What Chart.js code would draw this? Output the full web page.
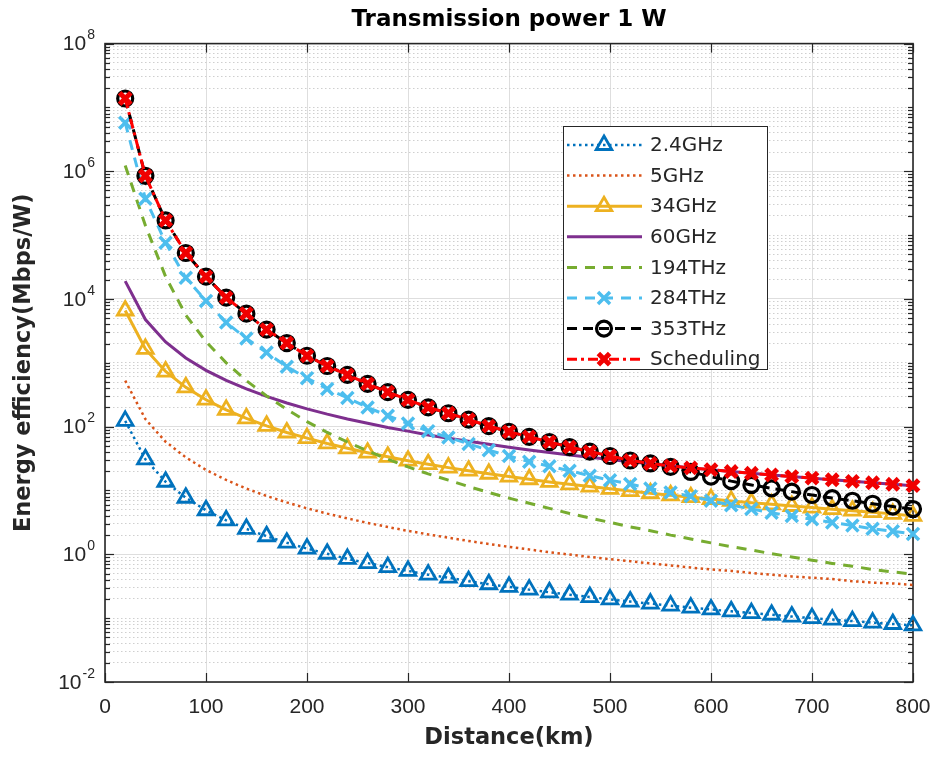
<!DOCTYPE html>
<html>
<head>
<meta charset="utf-8">
<script src="https://cdn.jsdelivr.net/npm/chart.js@4.4.1/dist/chart.umd.min.js"></script>
<style>
html,body{margin:0;padding:0;background:#ffffff;}
#wrap{width:939px;height:762px;}
</style>
</head>
<body>
<div id="wrap"><canvas id="c" width="939" height="762"></canvas></div>
<script>
// ---------- data ----------
const distances = [20,40,60,80,100,120,140,160,180,200,220,240,260,280,300,320,340,360,380,400,
                   420,440,460,480,500,520,540,560,580,600,620,640,660,680,700,720,740,760,780,800];

const ghz2_4 = [123,30.8,13.7,7.7,4.9,3.4,2.5,1.92,1.52,1.23,1.02,0.85,0.73,0.63,0.55,0.48,0.43,0.38,0.34,0.31,
                0.28,0.254,0.233,0.214,0.197,0.182,0.169,0.157,0.146,0.137,0.128,0.120,0.113,0.106,0.100,0.095,0.090,0.085,0.081,0.077];

const ghz5 = [525,131,58,33,21,14.6,10.7,8.2,6.5,5.25,4.34,3.65,3.11,2.68,2.33,2.05,1.82,1.62,1.45,1.31,
              1.19,1.08,0.99,0.91,0.84,0.78,0.72,0.67,0.62,0.58,0.55,0.51,0.48,0.45,0.43,0.41,0.38,0.36,0.35,0.33];

const ghz34 = [6600,1650,730,413,264,183,135,103,81,66,54.5,45.8,39.1,33.7,29.3,25.8,22.8,20.4,18.3,16.5,
               15.0,13.6,12.5,11.5,10.6,9.8,9.05,8.4,7.85,7.33,6.87,6.45,6.06,5.71,5.39,5.09,4.82,4.57,4.3,4.0];

const ghz60 = [19000,4760,2120,1190,762,529,389,298,235,190,157,132,113,97,85,74,66,59,53,47.6,
               43.2,39.3,36.0,33.1,30.5,28.2,26.1,24.3,22.6,21.2,19.8,18.6,17.5,16.5,15.6,14.7,13.9,13.2,12.5,11.9];

const thz194 = [1.23e6,1.41e5,2.24e4,5600,2140,1000,525,302,186,120,81,57.5,41.7,30.9,23.4,18.2,14.5,11.5,9.3,7.6,
                6.3,5.25,4.37,3.72,3.16,2.69,2.34,2.0,1.74,1.51,1.32,1.17,1.02,0.91,0.81,0.72,0.65,0.58,0.53,0.49];

const thz284 = [5.75e6,3.72e5,7.6e4,2.14e4,9330,4270,2400,1450,870,575,389,282,200,148,112,85,67.6,53.7,42.7,34.7,
                28.2,24.0,20.4,17.0,14.5,12.6,10.7,9.33,8.13,6.92,5.89,5.13,4.47,3.98,3.55,3.16,2.82,2.51,2.29,2.09];

const thz353 = [1.38e7,8.5e5,1.7e5,5.25e4,2.24e4,1.05e4,5890,3310,2040,1290,891,646,468,347,263,200,162,129,102,83.2,
                69.2,57.5,47.9,40.7,34.7,29.5,26.5,23.5,19.5,16.5,14.0,12.2,10.8,9.6,8.5,7.6,6.9,6.2,5.6,5.13];

const scheduling = [1.38e7,8.5e5,1.7e5,5.25e4,2.24e4,1.05e4,5890,3310,2040,1290,891,646,468,347,263,200,162,129,102,83.2,
                    69.2,57.5,47.9,40.7,34.7,29.5,26.5,24.3,22.6,21.2,19.8,18.6,17.5,16.5,15.6,14.7,13.9,13.2,12.5,11.9];

const seriesLabels = ['2.4GHz','5GHz','34GHz','60GHz','194THz','284THz','353THz','Scheduling'];

const xTickValues = [0,100,200,300,400,500,600,700,800];
const yTickValues = [1e-2,1e0,1e2,1e4,1e6,1e8];
const yTickExponents = ['-2','0','2','4','6','8'];

// minor log grid positions (k * 10^n)
const yMinorValues = [];
for (let e = -2; e < 8; e++) {
  for (let k = 1; k <= 9; k++) {
    const v = k * Math.pow(10, e);
    if (!(k === 1 && e % 2 === 0)) yMinorValues.push(v);
  }
}

function pts(arr){ return distances.map((d,i)=>({x:d, y:arr[i]})); }

const FONT_TXT = '"DejaVu Sans", "Liberation Sans", Arial, sans-serif';
const FONT_NUM = '"Liberation Sans", Arial, sans-serif';
const AXC = '#262626';

const datasets = [
  {label:seriesLabels[0], data:pts(ghz2_4), borderColor:'#0072BD', borderWidth:2.5, borderDash:[2.5,3.5],
   pointStyle:'triangle', pointRadius:9, pointBorderWidth:2.8, pointBorderColor:'#0072BD', pointBackgroundColor:'rgba(255,255,255,0)', order:8},
  {label:seriesLabels[1], data:pts(ghz5), borderColor:'#D95319', borderWidth:2.5, borderDash:[2.5,3.5],
   pointRadius:0, order:7},
  {label:seriesLabels[2], data:pts(ghz34), borderColor:'#EDB120', borderWidth:3,
   pointStyle:'triangle', pointRadius:9, pointBorderWidth:2.8, pointBorderColor:'#EDB120', pointBackgroundColor:'rgba(255,255,255,0)', order:6},
  {label:seriesLabels[3], data:pts(ghz60), borderColor:'#7E2F8E', borderWidth:3,
   pointRadius:0, order:5},
  {label:seriesLabels[4], data:pts(thz194), borderColor:'#77AC30', borderWidth:3, borderDash:[10,8],
   pointRadius:0, order:4},
  {label:seriesLabels[5], data:pts(thz284), borderColor:'#4DBEEE', borderWidth:3, borderDash:[10,8],
   pointStyle:'crossRot', pointRadius:8.5, pointBorderWidth:3.5, pointBorderColor:'#4DBEEE', pointBackgroundColor:'#4DBEEE', order:3},
  {label:seriesLabels[6], data:pts(thz353), borderColor:'#000000', borderWidth:3, borderDash:[10,6],
   pointStyle:'circle', pointRadius:7.5, pointBorderWidth:3.2, pointBorderColor:'#000000', pointBackgroundColor:'rgba(255,255,255,0)', order:2},
  {label:seriesLabels[7], data:pts(scheduling), borderColor:'#FF0000', borderWidth:3, borderDash:[10,4,3,4],
   pointStyle:'crossRot', pointRadius:8, pointBorderWidth:5, pointBorderColor:'#F00000', pointBackgroundColor:'#F00000', order:1}
];
datasets.forEach(d=>{ d.tension = 0; d.clip = false; d.fill = false; d.yAxisID = 'y'; d.xAxisID = 'x'; });

function line(ctx,x1,y1,x2,y2){ ctx.beginPath(); ctx.moveTo(x1,y1); ctx.lineTo(x2,y2); ctx.stroke(); }

const matlabPlugin = {
  id: 'matlab',
  beforeDatasetsDraw(chart){
    const {ctx, chartArea:a, scales} = chart;
    const xs = scales.x, ys = scales.y;
    ctx.save();
    ctx.strokeStyle = AXC;
    ctx.lineWidth = 1.2;
    ctx.setLineDash([]);
    xTickValues.forEach(v=>{
      const px = Math.round(xs.getPixelForValue(v)) + 0.5;
      line(ctx, px, a.bottom, px, a.bottom - 9);
      line(ctx, px, a.top, px, a.top + 9);
    });
    yTickValues.forEach(v=>{
      const py = Math.round(ys.getPixelForValue(v)) + 0.5;
      line(ctx, a.left, py, a.left + 9, py);
      line(ctx, a.right, py, a.right - 9, py);
    });
    yMinorValues.forEach(v=>{
      const py = Math.round(ys.getPixelForValue(v)) + 0.5;
      line(ctx, a.left, py, a.left + 5, py);
      line(ctx, a.right, py, a.right - 5, py);
    });
    ctx.lineWidth = 1.6;
    ctx.strokeRect(a.left, a.top, a.right - a.left, a.bottom - a.top);
    ctx.restore();
  },
  afterDraw(chart){
    const {ctx, scales} = chart;
    const ys = scales.y;
    ctx.save();
    ctx.fillStyle = AXC;
    ctx.textBaseline = 'middle';
    ctx.textAlign = 'right';
    yTickValues.forEach((v,i)=>{
      const py = ys.getPixelForValue(v);
      const ex = yTickExponents[i];
      ctx.font = '14px ' + FONT_NUM;
      const ew = ctx.measureText(ex).width;
      ctx.fillText(ex, 95, py - 8);
      ctx.font = '21px ' + FONT_NUM;
      ctx.fillText('10', 95 - ew - 1, py + 1);
    });
    // legend
    const L = {x:563, y:126, w:204, h:243};
    ctx.fillStyle = '#ffffff';
    ctx.fillRect(L.x, L.y, L.w, L.h);
    ctx.strokeStyle = AXC;
    ctx.lineWidth = 1;
    ctx.strokeRect(L.x + 0.5, L.y + 0.5, L.w, L.h);
    chart.data.datasets.forEach((ds,i)=>{
      const cy = 145 + i * 30.6;
      ctx.save();
      ctx.strokeStyle = ds.borderColor;
      ctx.lineWidth = ds.borderWidth;
      ctx.setLineDash(ds.borderDash || []);
      line(ctx, 567, cy, 642, cy);
      ctx.setLineDash([]);
      if (ds.pointRadius > 0) {
        ctx.strokeStyle = ds.pointBorderColor;
        ctx.fillStyle = ds.pointBackgroundColor;
        ctx.lineWidth = ds.pointBorderWidth;
        Chart.helpers.drawPoint(ctx, {pointStyle: ds.pointStyle, radius: ds.pointRadius, borderWidth: ds.pointBorderWidth, rotation: 0}, 604, cy);
      }
      ctx.restore();
      ctx.fillStyle = AXC;
      ctx.font = '20px ' + FONT_TXT;
      ctx.textAlign = 'left';
      ctx.textBaseline = 'middle';
      ctx.fillText(ds.label, 650, cy + 1);
    });
    ctx.restore();
  }
};

new Chart(document.getElementById('c'), {
  type: 'line',
  data: { datasets },
  plugins: [matlabPlugin],
  options: {
    responsive: false,
    animation: false,
    devicePixelRatio: 1,
    layout: { padding: { top: 0, right: 26, bottom: 0, left: 0 } },
    plugins: {
      legend: { display: false },
      tooltip: { enabled: false },
      title: {
        display: true,
        text: 'Transmission power 1 W',
        fullSize: false,
        color: '#000000',
        font: { family: FONT_TXT, size: 23, weight: 'bold' },
        padding: { top: 6, bottom: 10 }
      }
    },
    scales: {
      x: {
        type: 'linear', min: 0, max: 800,
        afterBuildTicks: s => { s.ticks = xTickValues.map(v=>({value:v})); },
        afterFit: s => { s.height = 80; s.paddingLeft = 0; s.paddingRight = 0; },
        ticks: { color: AXC, font: { family: FONT_NUM, size: 21 }, padding: 13, maxRotation: 0 },
        grid: { color: '#dedede', lineWidth: 1, drawTicks: false },
        border: { display: false },
        title: { display: true, text: 'Distance(km)', color: AXC,
                 font: { family: FONT_TXT, size: 22.5, weight: 'bold' }, padding: { top: 0, bottom: 10 } }
      },
      y: {
        type: 'logarithmic', position: 'left', min: 1e-2, max: 1e8,
        afterBuildTicks: s => { s.ticks = yTickValues.map(v=>({value:v})); },
        afterFit: s => { s.width = 105; },
        ticks: { display: false },
        grid: { color: '#dedede', lineWidth: 1, drawTicks: false },
        border: { display: false },
        title: { display: true, text: 'Energy efficiency(Mbps/W)', color: AXC,
                 font: { family: FONT_TXT, size: 22.5, weight: 'bold' }, padding: { top: 11, bottom: 0 } }
      },
      y2: {
        type: 'logarithmic', position: 'left', min: 1e-2, max: 1e8,
        afterBuildTicks: s => { s.ticks = yMinorValues.map(v=>({value:v})); },
        afterFit: s => { s.width = 0; },
        ticks: { display: false },
        grid: { color: '#cfcfcf', lineWidth: 1, drawTicks: false },
        border: { display: false, dash: [1.5, 2.5] }
      }
    }
  }
});
</script>
</body>
</html>
